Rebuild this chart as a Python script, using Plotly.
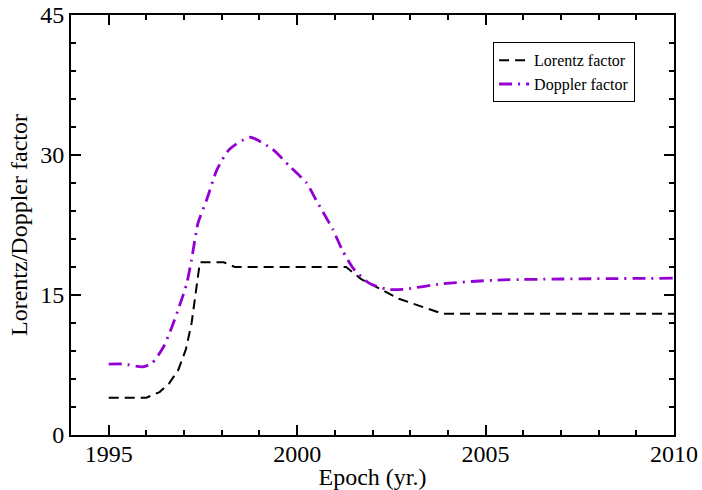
import plotly.graph_objects as go

# Lorentz factor vs epoch
lorentz_epoch = [1995.0, 1996.0, 1996.35, 1996.6, 1996.85, 1997.05, 1997.2, 1997.32,
                 1997.42, 1998.05, 1998.35, 2001.3, 2001.7, 2002.7, 2003.85, 2010.0]
lorentz_value = [4.0, 4.0, 4.6, 5.5, 7.0, 9.2, 12.0, 15.5,
                 18.5, 18.5, 18.0, 18.0, 16.7, 14.6, 13.0, 13.0]

# Doppler factor vs epoch
doppler_epoch = [1995.0, 1995.4, 1995.9, 1996.15, 1996.45, 1996.68, 1996.9, 1997.07,
                 1997.2, 1997.37, 1997.6, 1997.87, 1998.2, 1998.75, 1999.35, 1999.8,
                 2000.25, 2000.5, 2000.95, 2001.2, 2001.5, 2001.9, 2002.4, 2002.8,
                 2003.85, 2005.3, 2010.0]
doppler_value = [7.6, 7.6, 7.3, 7.7, 9.4, 11.6, 14.1, 16.2,
                 18.8, 22.7, 25.2, 28.4, 30.6, 31.9, 30.6, 28.8,
                 27.0, 25.2, 22.0, 19.8, 17.8, 16.3, 15.6, 15.6,
                 16.2, 16.6, 16.8]

x_ticks = [1995, 2000, 2005, 2010]
y_ticks = [0, 15, 30, 45]

FONT = "Liberation Serif"

fig = go.Figure()
fig.add_trace(go.Scatter(
    x=lorentz_epoch, y=lorentz_value, mode="lines", name="Lorentz factor",
    line=dict(color="black", width=2, dash="10px,6px"),
))
fig.add_trace(go.Scatter(
    x=doppler_epoch, y=doppler_value, mode="lines", name="Doppler factor",
    line=dict(color="#9400D3", width=2.8, dash="13px,6px,2px,6px", shape="spline", smoothing=0.6),
))

axis_common = dict(
    showgrid=False, zeroline=False, showline=True, linecolor="black", linewidth=2,
    mirror="ticks", ticks="inside", tickcolor="black", tickwidth=1.5, ticklen=10,
    tickfont=dict(family=FONT, size=24, color="black"), automargin=False,
)

fig.update_xaxes(
    range=[1994, 2010], tickvals=x_ticks, ticktext=[str(v) for v in x_ticks],
    minor=dict(dtick=1, ticks="inside", ticklen=5, tickcolor="black", tickwidth=1.5),
    title=dict(text="Epoch (yr.)", font=dict(family=FONT, size=24, color="black"), standoff=0),
    ticklabelstandoff=-4,
    **axis_common,
)
fig.update_yaxes(
    range=[0, 45], tickvals=y_ticks, ticktext=[str(v) for v in y_ticks],
    minor=dict(dtick=3, ticks="inside", ticklen=5, tickcolor="black", tickwidth=1.5),
    title=dict(text="Lorentz/Doppler factor", font=dict(family=FONT, size=24, color="black"), standoff=6),
    **axis_common,
)

fig.update_layout(
    width=702, height=490,
    margin=dict(l=71, r=28, t=15, b=55),
    paper_bgcolor="white", plot_bgcolor="white",
    font=dict(family=FONT, color="black"),
    showlegend=True,
    legend=dict(
        x=0.70, y=0.935, xanchor="left", yanchor="top",
        bordercolor="black", borderwidth=1, bgcolor="white",
        font=dict(family=FONT, size=16, color="black"),
        itemwidth=30, tracegroupgap=0,
    ),
)

fig.write_html("out.html")
